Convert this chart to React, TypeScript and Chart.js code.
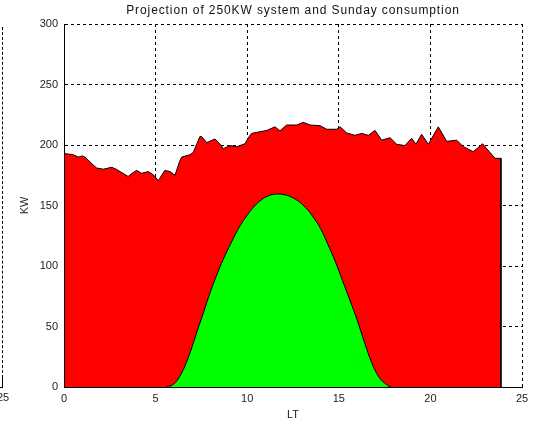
import React, { useEffect, useRef } from "react";
import { Chart, registerables } from "chart.js";

Chart.register(...registerables);

const titleText = "Projection of 250KW system and Sunday consumption";
const xLabel = "LT";
const yLabel = "KW";

// Sunday consumption (hour, kW)
const consumptionHours = [
  0, 0.25, 0.5, 0.78, 1.0, 1.15, 1.42, 1.78, 2.15, 2.6, 2.85, 3.06, 3.5, 3.75, 3.97,
  4.24, 4.6, 4.9, 5.15, 5.5, 5.79, 6.06, 6.3, 6.42, 6.88, 7.06, 7.42, 7.51, 7.79, 8.24,
  8.5, 8.7, 9.06, 9.43, 9.88, 10.06, 10.24, 10.7, 11.06, 11.52, 11.79, 12.15, 12.7,
  13.06, 13.43, 13.97, 14.34, 14.88, 15.07, 15.43, 15.88, 16.25, 16.61, 16.98, 17.34,
  17.8, 18.16, 18.61, 18.98, 19.21, 19.52, 19.89, 20.43, 20.89, 21.43, 21.8, 22.34,
  22.85, 23.07, 23.53, 23.85, 23.85,
];
const consumptionKW = [
  193, 192.5, 192, 190, 191, 190, 186, 181, 180, 181.6, 180, 178, 174, 177, 179,
  176.6, 178, 175, 170.5, 179, 178, 175, 186, 190, 192, 194, 207, 207, 202, 205,
  201, 197, 199.5, 198.6, 201, 206, 209.6, 211, 212, 215, 211.6, 216.5, 216.5,
  218.7, 216.5, 216, 213, 213, 215, 210, 208, 209.6, 208, 212, 204,
  206, 200.6, 199.5, 205.5, 200.6, 208.8, 200.6, 215, 203, 204, 198.6, 194.5,
  201, 197, 189, 189, 0,
];

// 250KW PV system projection (hour, kW)
const solarHours = [
  5.6, 6.0, 6.4, 6.8, 7.2, 7.6, 8.0, 8.4, 8.8, 9.2, 9.6, 10.0, 10.4, 10.8, 11.2, 11.6,
  12.0, 12.4, 12.8, 13.2, 13.6, 14.0, 14.4, 14.8, 15.2, 15.6, 16.0, 16.4, 16.8, 17.2,
  17.6, 17.85,
];
const solarKW = [
  0, 2.5, 11, 25, 43, 61, 79, 95, 109, 121.5, 133, 142, 149.5, 155, 158.3, 159.5,
  159, 157, 153.5, 148, 140.5, 131, 118, 104, 88, 72, 55.5, 37, 20, 8,
  2, 0,
];

const xMin = 0;
const xMax = 25;
const xStep = 5;
const yMin = 0;
const yMax = 300;
const yStep = 50;

const FONT = "'Liberation Sans', Arial, Helvetica, sans-serif";

const spacedTitle = {
  id: "spacedTitle",
  afterDraw(chart: any) {
    const ctx = chart.ctx;
    const { left, right } = chart.chartArea;
    ctx.save();
    ctx.font = `12px ${FONT}`;
    (ctx as any).letterSpacing = "0.9px";
    ctx.fillStyle = "#111";
    ctx.textAlign = "center";
    ctx.textBaseline = "middle";
    ctx.fillText(titleText, (left + right) / 2, 11);
    ctx.restore();
  },
};

export default function App() {
  const ref = useRef<HTMLCanvasElement | null>(null);

  useEffect(() => {
    if (!ref.current) return;
    const consumption = consumptionHours.map((h, i) => ({ x: h, y: consumptionKW[i] }));
    const solar = solarHours.map((h, i) => ({ x: h, y: solarKW[i] }));
    const chart = new Chart(ref.current, {
      type: "line",
      data: {
        datasets: [
          {
            label: "PV",
            data: solar,
            fill: "origin",
            backgroundColor: "#00ff00",
            borderColor: "#000",
            borderWidth: 1,
            pointRadius: 0,
            tension: 0.4,
          },
          {
            label: "Consumption",
            data: consumption,
            fill: "origin",
            backgroundColor: "#ff0000",
            borderColor: "#000",
            borderWidth: 1,
            pointRadius: 0,
            tension: 0,
          },
        ],
      },
      plugins: [spacedTitle],
      options: {
        responsive: false,
        animation: false,
        devicePixelRatio: 1,
        layout: { padding: { left: 0, right: 13, top: 24, bottom: 0 } },
        plugins: {
          legend: { display: false },
          tooltip: { enabled: false },
          title: { display: false },
        },
        scales: {
          x: {
            type: "linear",
            min: xMin,
            max: xMax,
            afterFit: (s: any) => {
              s.height = 39;
            },
            ticks: {
              stepSize: xStep,
              color: "#222",
              padding: 5,
              maxRotation: 0,
              font: { family: FONT, size: 11 },
            },
            grid: { color: "#000", lineWidth: 1, drawTicks: false },
            border: { display: true, color: "#000", width: 1, dash: [3, 3], z: 2 },
            title: {
              display: true,
              text: xLabel,
              color: "#222",
              font: { family: FONT, size: 11, lineHeight: 1.2 },
              padding: { top: 0, bottom: 4.6 },
            },
          },
          y: {
            type: "linear",
            min: yMin,
            max: yMax,
            afterFit: (s: any) => {
              s.width = 64;
            },
            ticks: {
              stepSize: yStep,
              color: "#222",
              padding: 6,
              font: { family: FONT, size: 11 },
            },
            grid: { color: "#000", lineWidth: 1, drawTicks: false },
            border: { display: true, color: "#000", width: 1, dash: [3, 3], z: 2 },
            title: {
              display: true,
              text: yLabel,
              color: "#222",
              font: { family: FONT, size: 11, lineHeight: 1.2 },
              padding: { top: 18, bottom: 0 },
            },
          },
        },
      },
    } as any);
    return () => chart.destroy();
  }, []);

  return (
    <div
      style={{
        position: "fixed",
        left: 0,
        top: 0,
        width: 535,
        height: 426,
        background: "#fff",
        overflow: "hidden",
      }}
    >
      <canvas ref={ref} width={535} height={426} style={{ position: "absolute", left: 0, top: 0 }} />
      <div
        style={{
          position: "absolute",
          left: 2,
          top: 27,
          height: 351,
          width: 0,
          borderLeft: "1px dashed #000",
        }}
      />
      <div style={{ position: "absolute", left: 2, top: 378, height: 10, width: 1, background: "#000" }} />
      <div style={{ position: "absolute", left: 0, top: 387, height: 1, width: 3, background: "#000" }} />
      <div
        style={{
          position: "absolute",
          left: -3,
          top: 391,
          fontFamily: FONT,
          fontSize: 11,
          color: "#222",
          lineHeight: "13px",
        }}
      >
        25
      </div>
    </div>
  );
}
